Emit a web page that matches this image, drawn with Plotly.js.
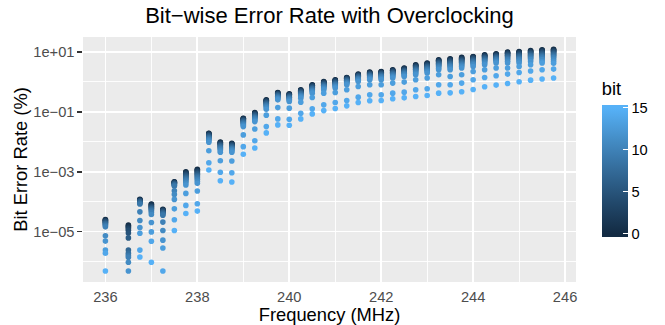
<!DOCTYPE html>
<html><head><meta charset="utf-8">
<script src="https://cdn.plot.ly/plotly-3.0.1.min.js"></script>
<style>html,body{margin:0;padding:0;background:#fff}#chart{width:665px;height:325px}</style>
</head><body><div id="chart"></div>
<script>
// Frequencies (MHz)
const freq = [236.0, 236.5, 236.75, 237.0, 237.25, 237.5, 237.75, 238.0, 238.25, 238.5, 238.75, 239.0, 239.25, 239.5, 239.75, 240.0, 240.25, 240.5, 240.75, 241.0, 241.25, 241.5, 241.75, 242.0, 242.25, 242.5, 242.75, 243.0, 243.25, 243.5, 243.75, 244.0, 244.25, 244.5, 244.75, 245.0, 245.25, 245.5, 245.75];
const bits = [0,1,2,3,4,5,6,7,8,9,10,11,12,13,14,15];
// Bit error rate (%) per bit, one value per frequency (null = no errors)
const b0 = [2.54e-5, 1.64e-5, 1.19e-4, 8.3e-5, 5.5e-5, 4.62e-4, 1.0e-3, 1.2e-3, 1.93e-2, 9.89e-3, 8.94e-3, 6.15e-2, 9.47e-2, 0.252, 0.443, 0.40, 0.546, 0.803, 1.035, 1.18, 1.41, 1.83, 2.14, 2.24, 2.55, 2.91, 3.76, 4.28, 5.52, 5.96, 6.6, 7.1, 8.1, 8.77, 10.0, 10.47, 11.3, 11.9, 12.4];
const b1 = [2.45e-5, 1.52e-5, 1.16e-4, 7.97e-5, 5.37e-5, 4.51e-4, 9.47e-4, 1.14e-3, 1.87e-2, 9.52e-3, 8.64e-3, 5.96e-2, 9.14e-2, 0.243, 0.43, 0.389, 0.529, 0.779, 1.0, 1.14, 1.37, 1.78, 2.07, 2.17, 2.47, 2.82, 3.61, 4.12, 5.31, 5.72, 6.35, 6.85, 7.82, 8.43, 9.6, 10.0, 10.8, 11.4, 11.85];
const b2 = [2.35e-5, 1.37e-5, 1.13e-4, 7.55e-5, 5.21e-5, 4.41e-4, 9.0e-4, 1.08e-3, 1.80e-2, 9.14e-3, 8.33e-3, 5.78e-2, 8.83e-2, 0.235, 0.42, 0.377, 0.513, 0.755, 0.973, 1.11, 1.34, 1.74, 2.01, 2.11, 2.40, 2.73, 3.47, 3.96, 5.11, 5.48, 6.05, 6.6, 7.52, 8.18, 9.18, 9.55, 10.4, 10.9, 11.3];
const b3 = [2.25e-5, 1.25e-5, 1.09e-4, 7.05e-5, 5.0e-5, 4.28e-4, 8.5e-4, 1.02e-3, 1.74e-2, 8.7e-3, 8.03e-3, 5.56e-2, 8.5e-2, 0.225, 0.404, 0.366, 0.493, 0.726, 0.937, 1.07, 1.29, 1.67, 1.95, 2.03, 2.31, 2.63, 3.32, 3.79, 4.89, 5.19, 5.78, 6.3, 7.16, 7.82, 8.7, 9.0, 9.85, 10.3, 10.7];
const b4 = [2.15e-5, 1.11e-5, 1.06e-4, 6.72e-5, 4.83e-5, 4.15e-4, 7.99e-4, 9.47e-4, 1.66e-2, 8.28e-3, 7.6e-3, 5.33e-2, 8.12e-2, 0.215, 0.392, 0.352, 0.475, 0.698, 0.90, 1.03, 1.25, 1.62, 1.88, 1.95, 2.22, 2.52, 3.17, 3.61, 4.66, 4.96, 5.52, 6.0, 6.85, 7.5, 8.32, 8.6, 9.4, 9.77, 10.15];
const b5 = [2.05e-5, 9.0e-6, 1.02e-4, 6.32e-5, 4.6e-5, 4.02e-4, 7.4e-4, 8.77e-4, 1.58e-2, 7.85e-3, 7.33e-3, 5.11e-2, 7.76e-2, 0.205, 0.377, 0.338, 0.454, 0.667, 0.86, 0.98, 1.20, 1.56, 1.80, 1.86, 2.12, 2.42, 3.0, 3.42, 4.41, 4.66, 5.19, 5.7, 6.51, 7.1, 7.82, 8.08, 8.83, 9.18, 9.55];
const b6 = [1.94e-5, 6.15e-6, 9.8e-5, 5.94e-5, 4.36e-5, 3.87e-4, 6.9e-4, 8.18e-4, 1.51e-2, 7.43e-3, 6.98e-3, 4.89e-2, 7.4e-2, 0.195, 0.363, 0.323, 0.433, 0.637, 0.822, 0.937, 1.15, 1.49, 1.72, 1.78, 2.03, 2.31, 2.84, 3.24, 4.18, 4.38, 4.92, 5.4, 6.15, 6.77, 7.34, 7.58, 8.32, 8.64, 8.97];
const b7 = [1.84e-5, 2.4e-6, 9.37e-5, 5.63e-5, 4.14e-5, 3.7e-4, 6.35e-4, 7.46e-4, 1.42e-2, 6.98e-3, 6.57e-3, 4.62e-2, 6.96e-2, 0.184, 0.346, 0.309, 0.412, 0.605, 0.782, 0.89, 1.10, 1.42, 1.64, 1.69, 1.93, 2.19, 2.67, 3.05, 3.93, 4.12, 4.59, 5.08, 5.78, 6.4, 6.9, 7.06, 7.82, 8.03, 8.32];
const b8 = [1.73e-5, 1.9e-6, 8.8e-5, 5.21e-5, 3.83e-5, 3.5e-4, 5.87e-4, 6.85e-4, 1.35e-2, 6.52e-3, 6.23e-3, 4.38e-2, 6.6e-2, 0.174, 0.331, 0.294, 0.392, 0.575, 0.743, 0.847, 1.05, 1.36, 1.57, 1.61, 1.83, 2.07, 2.51, 2.87, 3.7, 3.84, 4.31, 4.77, 5.43, 6.05, 6.44, 6.6, 7.28, 7.46, 7.76];
const b9 = [1.60e-5, 1.6e-6, 8.3e-5, 4.83e-5, 3.54e-5, 3.32e-4, 5.36e-4, 6.25e-4, 1.26e-2, 6.09e-3, 5.85e-3, 4.15e-2, 6.2e-2, 0.163, 0.314, 0.279, 0.368, 0.541, 0.698, 0.796, 1.0, 1.29, 1.49, 1.51, 1.72, 1.96, 2.34, 2.67, 3.45, 3.56, 3.99, 4.45, 5.08, 5.64, 5.96, 6.05, 6.75, 6.9, 7.1];
const b10 = [1.44e-5, 1.4e-6, 4.57e-5, 4.3e-5, 2.07e-5, 2.31e-4, 4.85e-4, 5.6e-4, 1.18e-2, 5.63e-3, 5.46e-3, 3.87e-2, 5.78e-2, 0.152, 0.297, 0.262, 0.346, 0.509, 0.657, 0.75, 0.944, 1.22, 1.40, 1.42, 1.62, 1.83, 2.17, 2.47, 3.19, 3.27, 3.70, 4.12, 4.7, 5.27, 5.48, 5.56, 6.2, 6.3, 6.51];
const b11 = [7.2e-6, 9.4e-7, 2.35e-5, 3.74e-5, 1.09e-5, 1.75e-4, 4.21e-4, 4.85e-4, 1.08e-2, 5.05e-3, 4.97e-3, 3.55e-2, 5.27e-2, 0.138, 0.277, 0.243, 0.318, 0.468, 0.603, 0.688, 0.88, 1.14, 1.29, 1.30, 1.49, 1.68, 1.96, 2.24, 2.89, 2.93, 3.32, 3.73, 4.25, 4.81, 4.92, 4.96, 5.56, 5.6, 5.74];
const b12 = [4.8e-6, 4.8e-7, 1.37e-5, 2.02e-5, 5.16e-6, 1.19e-4, 3.59e-4, 4.09e-4, 9.67e-3, 4.47e-3, 4.47e-3, 3.22e-2, 4.73e-2, 0.123, 0.252, 0.221, 0.287, 0.423, 0.546, 0.623, 0.803, 1.035, 1.18, 1.18, 1.35, 1.52, 1.74, 1.98, 2.55, 2.55, 2.91, 3.29, 3.76, 4.28, 4.28, 4.28, 4.85, 4.85, 4.92];
const b13 = [2.4e-6, null, 8.8e-6, 9.77e-6, 2.84e-6, 5.75e-5, 1.89e-4, 2.26e-4, 5.05e-3, 2.34e-3, 2.28e-3, 1.7e-2, 2.69e-2, 7.76e-2, 0.139, 0.133, 0.211, 0.301, 0.423, 0.443, 0.546, 0.704, 0.803, 0.803, 0.914, 0.989, 1.18, 1.35, 1.74, 1.52, 1.74, 2.24, 2.55, 2.91, 2.91, 3.29, 3.76, 4.28, 4.21];
const b14 = [1.9e-6, null, 2.4e-6, 4.77e-6, 4.8e-7, 2.47e-5, 7.5e-5, 8.47e-5, 2.0e-3, 9.55e-4, 9.26e-4, 6.88e-3, 1.09e-2, 3.22e-2, 5.82e-2, 5.69e-2, 9.0e-2, 0.126, 0.172, 0.205, 0.239, 0.311, 0.371, 0.371, 0.423, 0.457, 0.546, 0.59, 0.803, 0.803, 0.914, 1.18, 1.41, 1.61, 1.83, 2.07, 2.31, 2.55, 2.69];
const b15 = [4.8e-7, null, 1.42e-6, 9.4e-7, null, 1.09e-5, 4.04e-5, 4.83e-5, 1.14e-3, 4.99e-4, 4.51e-4, 3.83e-3, 6.23e-3, 1.98e-2, 3.67e-2, 3.59e-2, 5.82e-2, 8.57e-2, 0.1105, 0.129, 0.159, 0.205, 0.234, 0.239, 0.273, 0.294, 0.325, 0.352, 0.423, 0.433, 0.468, 0.56, 0.688, 0.785, 0.888, 1.01, 1.15, 1.25, 1.35];
const yTickVals = [1e-5, 1e-3, 1e-1, 1e1];
const yTickText = ['1e\u221205', '1e\u221203', '1e\u221201', '1e+01'];
const yMinorVals = [1e-6, 1e-4, 1e-2, 1];
const barTicks = [0, 5, 10, 15];

const berByBit = [b0,b1,b2,b3,b4,b5,b6,b7,b8,b9,b10,b11,b12,b13,b14,b15];
const xs = [], ys = [], cs = [];
bits.forEach((b, i) => {
  freq.forEach((f, j) => {
    const v = berByBit[i][j];
    if (v !== null && v !== undefined) { xs.push(f); ys.push(v); cs.push(b); }
  });
});

const FONT = 'Liberation Sans, Arial, Helvetica, sans-serif';
const xRange = [235.5125, 246.2375];
const trace = {
  type: 'scatter', mode: 'markers', x: xs, y: ys,
  marker: {
    size: 5.6, color: cs, cmin: -0.39, cmax: 15.39,
    colorscale: [[0,'#132B43'],[0.0247,'#132B43'],[0.2624,'#22496C'],[0.5,'#336A98'],[0.7376,'#448DC6'],[0.9753,'#56B1F7'],[1,'#56B1F7']],
    line: {width: 0},
    showscale: true,
    colorbar: {
      title: {text: 'bit', side: 'top', font: {family: FONT, size: 18.3, color: '#000'}},
      thickness: 26.4, thicknessmode: 'pixels', len: 158, lenmode: 'pixels',
      x: 1.0524, xanchor: 'left', xref: 'paper', y: 0.5073, yanchor: 'middle', yref: 'paper',
      xpad: 0, ypad: 0, outlinewidth: 0, borderwidth: 0,
      tickmode: 'array', tickvals: barTicks, ticktext: barTicks.map(String),
      ticks: 'inside', ticklen: 5, tickwidth: 1, tickcolor: '#ffffff',
      tickfont: {family: FONT, size: 14.67, color: '#000'}
    }
  },
  hoverinfo: 'x+y', showlegend: false
};

const layout = {
  width: 665, height: 325,
  margin: {l: 83, r: 86, t: 37, b: 43, pad: 0},
  paper_bgcolor: '#ffffff', plot_bgcolor: '#EBEBEB',
  font: {family: FONT, color: '#000'},
  title: {text: 'Bit\u2212wise Error Rate with Overclocking', x: 0.5, xref: 'paper', xanchor: 'center',
          y: 0.953, yref: 'container', yanchor: 'middle', font: {family: FONT, size: 22, color: '#000'}},
  xaxis: {
    range: xRange, tickmode: 'linear', tick0: 236, dtick: 2,
    showgrid: true, gridcolor: '#ffffff', gridwidth: 1.8, zeroline: false, showline: false,
    ticks: 'outside', ticklen: 1.4, tickwidth: 1, tickcolor: 'rgba(0,0,0,0)',
    tickfont: {family: FONT, size: 14.67, color: '#4D4D4D'},
    minor: {dtick: 1, tick0: 236, showgrid: true, gridcolor: '#ffffff', gridwidth: 0.9, ticks: ''},
    title: {text: 'Frequency (MHz)', font: {family: FONT, size: 18.33, color: '#000'}, standoff: 4},
    automargin: false
  },
  xaxis2: {
    overlaying: 'x', anchor: 'y', side: 'bottom', range: xRange,
    tickmode: 'linear', tick0: 236, dtick: 2, showticklabels: false,
    showgrid: false, zeroline: false, showline: false,
    ticks: 'outside', ticklen: 4.6, tickwidth: 1.6, tickcolor: '#333333'
  },
  yaxis: {
    type: 'log', range: [-6.685, 1.502],
    tickmode: 'array', tickvals: yTickVals, ticktext: yTickText,
    showgrid: true, gridcolor: '#ffffff', gridwidth: 1.8, zeroline: false, showline: false,
    ticks: 'outside', ticklen: 4.6, tickwidth: 1.6, tickcolor: '#333333',
    tickfont: {family: FONT, size: 14.67, color: '#4D4D4D'},
    minor: {tickmode: 'array', tickvals: yMinorVals, showgrid: true, gridcolor: '#ffffff', gridwidth: 0.9, ticks: ''},
    title: {text: 'Bit Error Rate (%)', font: {family: FONT, size: 18.33, color: '#000'}, standoff: 0},
    automargin: false
  }
};

Plotly.newPlot('chart', [trace], layout, {displayModeBar: false, staticPlot: true});
</script>
</body></html>
